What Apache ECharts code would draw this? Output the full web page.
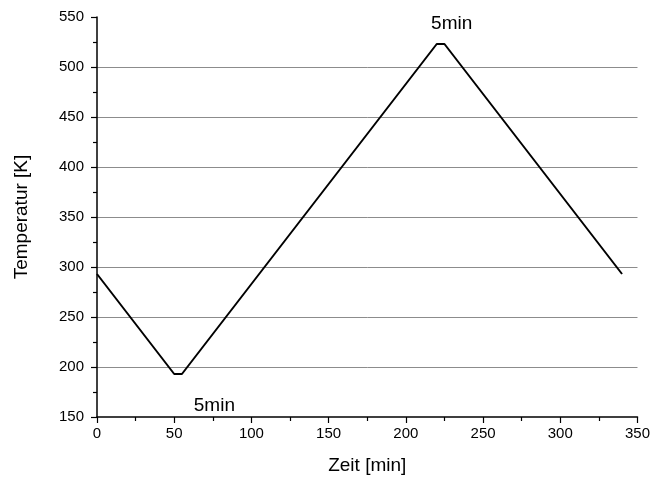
<!DOCTYPE html>
<html>
<head>
<meta charset="utf-8">
<script src="https://cdn.jsdelivr.net/npm/echarts@6/dist/echarts.min.js"></script>
<style>
  html, body { margin: 0; padding: 0; background: #fff; }
  #chart { width: 653px; height: 481px; }
</style>
</head>
<body>
<div id="chart"></div>
<script>
// Temperature program: time in minutes, temperature in kelvin
var timeMin = [0, 50, 55, 220, 225, 340];
var tempK   = [293, 193, 193, 523, 523, 293];

// Hold-time annotations (text, x, y in data units)
var noteText = ['5min', '5min'];
var noteX = [229.7, 76];
var noteY = [543, 161];

var xTicks = { min: 0, max: 350, interval: 50 };
var yTicks = { min: 150, max: 550, interval: 50 };

var lineData = timeMin.map(function (t, i) { return [t, tempK[i]]; });
var noteData = noteText.map(function (s, i) { return { value: [noteX[i], noteY[i]], name: s }; });

var font = 'Liberation Sans, Arial, Helvetica, sans-serif';

var chart = echarts.init(document.getElementById('chart'), null, { renderer: 'canvas' });
chart.setOption({
  animation: false,
  backgroundColor: '#ffffff',
  grid: { left: 97, right: 15, top: 17, bottom: 64, containLabel: false },
  xAxis: {
    type: 'value',
    min: xTicks.min, max: xTicks.max, interval: xTicks.interval,
    name: 'Zeit [min]', nameLocation: 'middle', nameGap: 39,
    nameTextStyle: { fontFamily: font, fontSize: 19, color: '#000' },
    axisLine: { show: true, onZero: false, lineStyle: { color: '#000', width: 1.5 } },
    axisTick: { show: true, inside: false, length: 6, lineStyle: { color: '#000', width: 1.2 } },
    minorTick: { show: true, splitNumber: 2, length: 4, lineStyle: { color: '#000', width: 1.2 } },
    axisLabel: { fontFamily: font, fontSize: 15, color: '#000', margin: 9 },
    splitLine: { show: false }
  },
  yAxis: {
    type: 'value',
    min: yTicks.min, max: yTicks.max, interval: yTicks.interval,
    name: 'Temperatur [K]', nameLocation: 'middle', nameGap: 66, nameRotate: 90,
    nameTextStyle: { fontFamily: font, fontSize: 19, color: '#000' },
    axisLine: { show: true, onZero: false, lineStyle: { color: '#000', width: 1.5 } },
    axisTick: { show: true, inside: false, length: 6, lineStyle: { color: '#000', width: 1.2 } },
    minorTick: { show: true, splitNumber: 2, length: 4, lineStyle: { color: '#000', width: 1.2 } },
    axisLabel: { fontFamily: font, fontSize: 15, color: '#000', margin: 13 },
    splitLine: { show: true, showMinLine: false, showMaxLine: false, lineStyle: { color: '#8c8c8c', width: 1 } }
  },
  series: [
    {
      type: 'line',
      data: lineData,
      symbol: 'none',
      lineStyle: { color: '#000', width: 2 },
      z: 3
    },
    {
      type: 'scatter',
      data: noteData,
      symbolSize: 0,
      silent: true,
      itemStyle: { color: '#000', opacity: 1 },
      label: {
        show: true, position: 'inside', opacity: 1,
        formatter: function (p) { return p.name; },
        fontFamily: font, fontSize: 19, color: '#000',
        textBorderWidth: 0, textBorderColor: 'transparent'
      },
      z: 4
    }
  ]
});
</script>
</body>
</html>
